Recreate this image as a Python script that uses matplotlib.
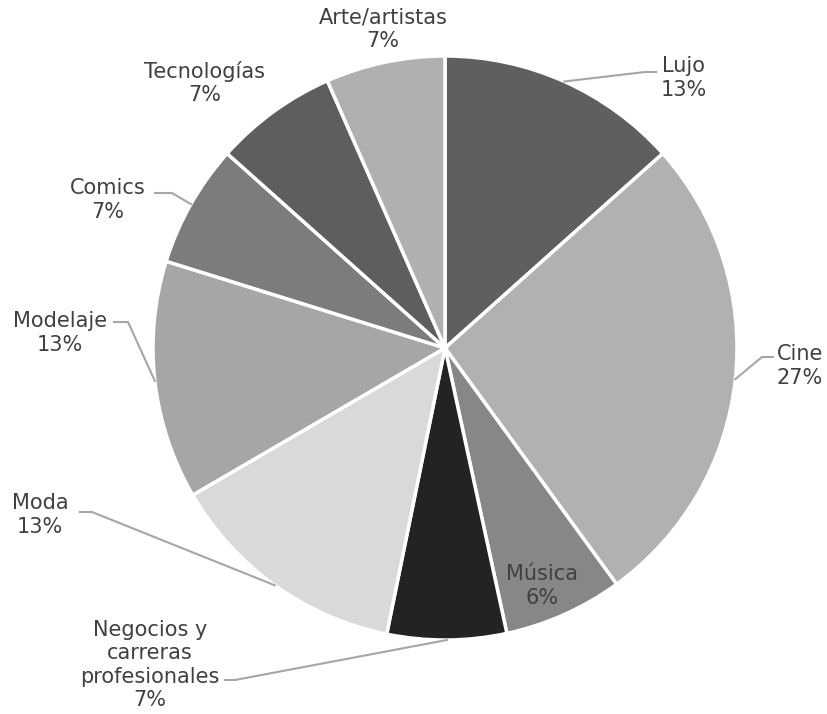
import matplotlib
matplotlib.use("Agg")
import matplotlib.pyplot as plt
import numpy as np

# Datos del gráfico (en el sentido del reloj desde arriba)
categorias = ["Lujo", "Cine", "Música", "Negocios y\ncarreras\nprofesionales",
              "Moda", "Modelaje", "Comics", "Tecnologías", "Arte/artistas"]
valores = [13.4, 26.6, 6.6, 6.6, 13.4, 13.2, 6.8, 6.8, 6.6]
etiquetas_pct = ["13%", "27%", "6%", "7%", "13%", "13%", "7%", "7%", "7%"]
colores = ["#5f5f5f", "#b1b1b1", "#878787", "#232323", "#d9d9d9",
           "#a6a6a6", "#7c7c7c", "#5e5e5e", "#b0b0b0"]

W, H = 827, 714
fig = plt.figure(figsize=(W / 100, H / 100), dpi=100)
ax = fig.add_axes([0, 0, 1, 1])

cx, cy, R = 445, H - 348, 292
wedges, _ = ax.pie(valores, colors=colores, startangle=90, counterclock=False,
                   center=(cx, cy), radius=R, frame=True,
                   wedgeprops=dict(edgecolor="white", linewidth=2.5))
ax.set_xlim(0, W)
ax.set_ylim(0, H)
ax.set_aspect("equal")
ax.axis("off")

txt_color = "#404040"
line_color = "#a6a6a6"

# etiqueta (x, y desde arriba), codo y final de la línea guía
posiciones = [
    (684, 78, (645, 72), (656, 72)),
    (800, 366, (762, 357), (773, 357)),
    (542, 586, None, None),
    (150, 665, (235, 680), (225, 680)),
    (40, 515, (92, 512), (80, 512)),
    (60, 333, (128, 322), (114, 322)),
    (108, 200, (172, 193), (155, 193)),
    (205, 83, None, None),
    (383, 29, None, None),
]

for w, cat, pct, (lx, ly, codo, fin) in zip(wedges, categorias, etiquetas_pct, posiciones):
    ax.text(lx, H - ly, cat + "\n" + pct, ha="center", va="center",
            fontsize=15, color=txt_color, linespacing=1.2)
    if codo is not None:
        ang = np.deg2rad((w.theta1 + w.theta2) / 2)
        x0 = cx + R * np.cos(ang)
        y0 = cy + R * np.sin(ang)
        ax.plot([x0, codo[0], fin[0]], [y0, H - codo[1], H - fin[1]],
                color=line_color, lw=1.5, solid_joinstyle="miter")

fig.savefig("out.png", dpi=100, facecolor="white")
